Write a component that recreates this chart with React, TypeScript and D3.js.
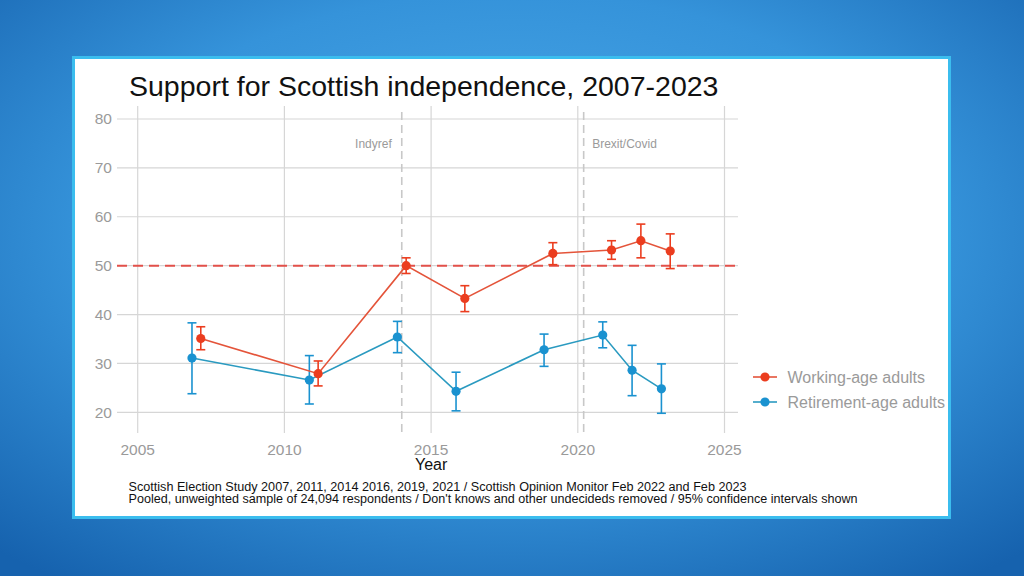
import React from "react";
import * as d3 from "d3";

const yearsWorking = [2007.15, 2011.15, 2014.15, 2016.15, 2019.15, 2021.15, 2022.15, 2023.15];
const working = [35.1, 27.9, 50.0, 43.3, 52.5, 53.2, 55.1, 53.0];
const workingLo = [32.8, 25.4, 48.4, 40.6, 50.2, 51.3, 51.6, 49.4];
const workingHi = [37.5, 30.5, 51.6, 45.9, 54.7, 55.1, 58.5, 56.5];

const yearsRetired = [2006.85, 2010.85, 2013.85, 2015.85, 2018.85, 2020.85, 2021.85, 2022.85];
const retired = [31.1, 26.6, 35.4, 24.3, 32.8, 35.8, 28.6, 24.8];
const retiredLo = [23.8, 21.7, 32.2, 20.3, 29.4, 33.2, 23.4, 19.8];
const retiredHi = [38.3, 31.6, 38.6, 28.2, 36.0, 38.5, 33.7, 29.9];

const xTicks = [2005, 2010, 2015, 2020, 2025];
const yTicks = [20, 30, 40, 50, 60, 70, 80];

const events = [
  { year: 2014.0, label: "Indyref", anchor: "end" },
  { year: 2020.2, label: "Brexit/Covid", anchor: "start" },
];
const threshold = 50;

const seriesNames = ["Working-age adults", "Retirement-age adults"];

const title = "Support for Scottish independence, 2007-2023";
const captionLines = [
  "Scottish Election Study 2007, 2011, 2014 2016, 2019, 2021 / Scottish Opinion Monitor Feb 2022 and Feb 2023",
  "Pooled, unweighted sample of 24,094 respondents / Don't knows and other undecideds removed / 95% confidence intervals shown",
];

const RED = "#EB3D1F";
const RED_LINE = "#E4543A";
const BLUE = "#1A92D0";
const BLUE_LINE = "#2A9AC0";
const GRID = "#D6D6D6";
const GRAY_TEXT = "#9A9A9A";
const FONT = "'Liberation Sans', Arial, Helvetica, sans-serif";

export default function App() {
  const W = 1024, H = 576;
  const panel = { left: 117, right: 738, top: 106, bottom: 433 };
  const x = d3.scaleLinear().domain([2005, 2025]).range([137.7, 724.5]);
  const y = d3.scaleLinear().domain([20, 80]).range([412.3, 119]);

  const wData = yearsWorking.map((yr, i) => ({ yr, v: working[i], lo: workingLo[i], hi: workingHi[i] }));
  const rData = yearsRetired.map((yr, i) => ({ yr, v: retired[i], lo: retiredLo[i], hi: retiredHi[i] }));

  const line = d3.line<{ yr: number; v: number }>().x((d) => x(d.yr)).y((d) => y(d.v));

  const series = [
    { data: rData, color: BLUE, lineColor: BLUE_LINE },
    { data: wData, color: RED, lineColor: RED_LINE },
  ];

  const cap = 4.5;

  return (
    <div style={{ position: "absolute", left: 0, top: 0 }}>
      <svg width={W} height={H} style={{ display: "block" }} fontFamily={FONT}>
        <defs>
          <radialGradient id="bg" cx="50%" cy="40%" r="75%">
            <stop offset="0%" stopColor="#4DABEA" />
            <stop offset="55%" stopColor="#3593DA" />
            <stop offset="100%" stopColor="#1662AE" />
          </radialGradient>
        </defs>
        <rect x={0} y={0} width={W} height={H} fill="url(#bg)" />
        <rect x={73.5} y={57.5} width={876} height={460} fill="#fff" stroke="#3BBDEE" strokeWidth={3} />

        <text x={129} y={96} fontSize={28.5} fill="#111">{title}</text>

        {/* grid */}
        {yTicks.map((t) => (
          <line key={"hy" + t} x1={panel.left} x2={panel.right} y1={y(t)} y2={y(t)} stroke={GRID} strokeWidth={1.2} />
        ))}
        {xTicks.map((t) => (
          <line key={"vx" + t} x1={x(t)} x2={x(t)} y1={panel.top} y2={panel.bottom} stroke={GRID} strokeWidth={1.2} />
        ))}

        {/* event lines */}
        {events.map((e) => (
          <g key={e.label}>
            <line x1={x(e.year)} x2={x(e.year)} y1={panel.top + 6} y2={panel.bottom} stroke="#C8C8C8" strokeWidth={1.6} strokeDasharray="8,5" />
            <text
              x={x(e.year) + (e.anchor === "end" ? -10 : 8.5)}
              y={147.5}
              fontSize={12}
              fill={GRAY_TEXT}
              textAnchor={e.anchor as any}
            >
              {e.label}
            </text>
          </g>
        ))}

        {/* threshold */}
        <line x1={panel.left} x2={panel.right} y1={y(threshold)} y2={y(threshold)} stroke="#E2504A" strokeWidth={2} strokeDasharray="10,6" />

        {/* axis labels */}
        {yTicks.map((t) => (
          <text key={"yl" + t} x={112} y={y(t)} dy="0.35em" fontSize={15.5} fill={GRAY_TEXT} textAnchor="end">{t}</text>
        ))}
        {xTicks.map((t) => (
          <text key={"xl" + t} x={x(t)} y={454.5} fontSize={15.5} fill={GRAY_TEXT} textAnchor="middle">{t}</text>
        ))}
        <text x={x(2015)} y={470} fontSize={16} fill="#111" textAnchor="middle">Year</text>

        {/* series */}
        {series.map((s, si) => (
          <g key={si}>
            <path d={line(s.data) || ""} fill="none" stroke={s.lineColor} strokeWidth={1.6} />
            {s.data.map((d, i) => (
              <g key={i} stroke={s.color} strokeWidth={1.6}>
                <line x1={x(d.yr)} x2={x(d.yr)} y1={y(d.lo)} y2={y(d.hi)} />
                <line x1={x(d.yr) - cap} x2={x(d.yr) + cap} y1={y(d.lo)} y2={y(d.lo)} />
                <line x1={x(d.yr) - cap} x2={x(d.yr) + cap} y1={y(d.hi)} y2={y(d.hi)} />
              </g>
            ))}
            {s.data.map((d, i) => (
              <circle key={"c" + i} cx={x(d.yr)} cy={y(d.v)} r={4.6} fill={s.color} />
            ))}
          </g>
        ))}

        {/* legend */}
        {seriesNames.map((name, i) => {
          const col = i === 0 ? RED : BLUE;
          const lc = i === 0 ? RED_LINE : BLUE_LINE;
          const ly = 377 + i * 25;
          return (
            <g key={name}>
              <line x1={753} x2={777} y1={ly} y2={ly} stroke={lc} strokeWidth={1.6} />
              <circle cx={765} cy={ly} r={4.6} fill={col} />
              <text x={787.5} y={ly} dy="0.35em" fontSize={16} fill={GRAY_TEXT}>{name}</text>
            </g>
          );
        })}

        {/* caption */}
        {captionLines.map((c, i) => (
          <text
            key={i}
            x={128.5}
            y={491 + i * 12}
            fontSize={12}
            fill="#111"
            textLength={i === 0 ? 618 : 729}
            lengthAdjust="spacingAndGlyphs"
          >
            {c}
          </text>
        ))}
      </svg>
    </div>
  );
}
